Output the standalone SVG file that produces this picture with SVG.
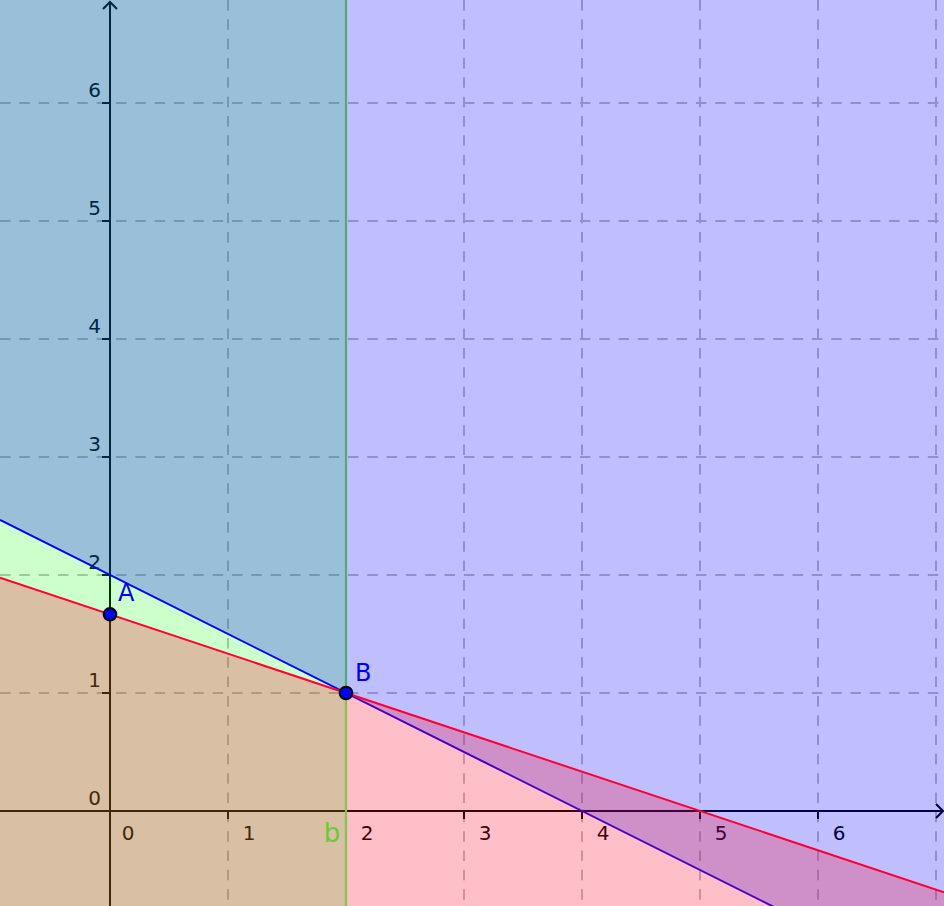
<svg xmlns="http://www.w3.org/2000/svg" width="944" height="906" viewBox="0 0 944 906">
<style>
.grid{stroke:#c0c0c0;stroke-width:2;stroke-dasharray:10.5 8.83;fill:none}
.axis{stroke:#000;stroke-width:2;fill:none}
.tick{stroke:#000;stroke-width:2}
.lbl{font-family:"DejaVu Sans",sans-serif;font-size:20px;fill:#000;text-anchor:middle}
.pt{fill:#0000ff;stroke:#000;stroke-width:2}
.ptl{font-family:"DejaVu Sans",sans-serif;font-size:24px;fill:#0000ff}
</style>
<rect width="944" height="906" fill="#fff"/>
<g id="grid">
<path class="grid" d="M228 0V906M346 0V906M464 0V906M582 0V906M700 0V906M818 0V906M936 0V906"/>
<path class="grid" d="M0 693H944M0 575H944M0 457H944M0 339H944M0 221H944M0 103H944"/>
</g>
<g id="axes">
<path class="axis" d="M110 906V2M103 9L110 2L117 9"/>
<path class="axis" d="M0 811H943M936 804L943 811L936 818"/>
<path class="tick" d="M228 811v8M346 811v8M464 811v8M582 811v8M700 811v8M818 811v8M110 693h-8M110 575h-8M110 457h-8M110 339h-8M110 221h-8M110 103h-8"/>
<g class="lbl">
<text x="128" y="840">0</text><text x="249" y="840">1</text><text x="367" y="840">2</text><text x="485" y="840">3</text><text x="603" y="840">4</text><text x="721" y="840">5</text><text x="839" y="840">6</text>
<text x="94.5" y="805">0</text><text x="94.5" y="687">1</text><text x="94.5" y="569">2</text><text x="94.5" y="451">3</text><text x="94.5" y="333">4</text><text x="94.5" y="215">5</text><text x="94.5" y="97">6</text>
</g>
</g>
<g id="region-b">
<rect x="0" y="0" width="346" height="906" fill="#00ff00" fill-opacity="0.2"/>
</g>
<g id="region-blue">
<polygon points="0,0 944,0 944,906 772,906 0,520" fill="#0000ff" fill-opacity="0.25"/>
</g>
<g id="connectors">
<line id="line-blue" x1="0" y1="520" x2="944" y2="992" stroke="#0000ff" stroke-width="2"/>
<polygon id="region-red" points="0,577.7 944,892.3 944,906 0,906" fill="#ff0028" fill-opacity="0.25"/>
<line id="line-red" x1="0" y1="577.7" x2="944" y2="892.3" stroke="#ff0033" stroke-width="2"/>
<g id="line-b">
<path d="M346 0V693" stroke="#4caf6e" stroke-width="2.2"/>
<path d="M346 693V906" stroke="#7cc84a" stroke-width="2.2"/>
</g>
</g>
<text x="332" y="841.5" font-family="DejaVu Sans,sans-serif" font-size="26" fill="#66cc33" text-anchor="middle">b</text>
<g id="A">
<circle class="pt" cx="110" cy="614.3" r="6.3"/>
<text class="ptl" x="118" y="601">A</text>
</g>
<g id="B">
<circle class="pt" cx="346" cy="693" r="6.3"/>
<text class="ptl" x="355" y="680.5">B</text>
</g>
</svg>
